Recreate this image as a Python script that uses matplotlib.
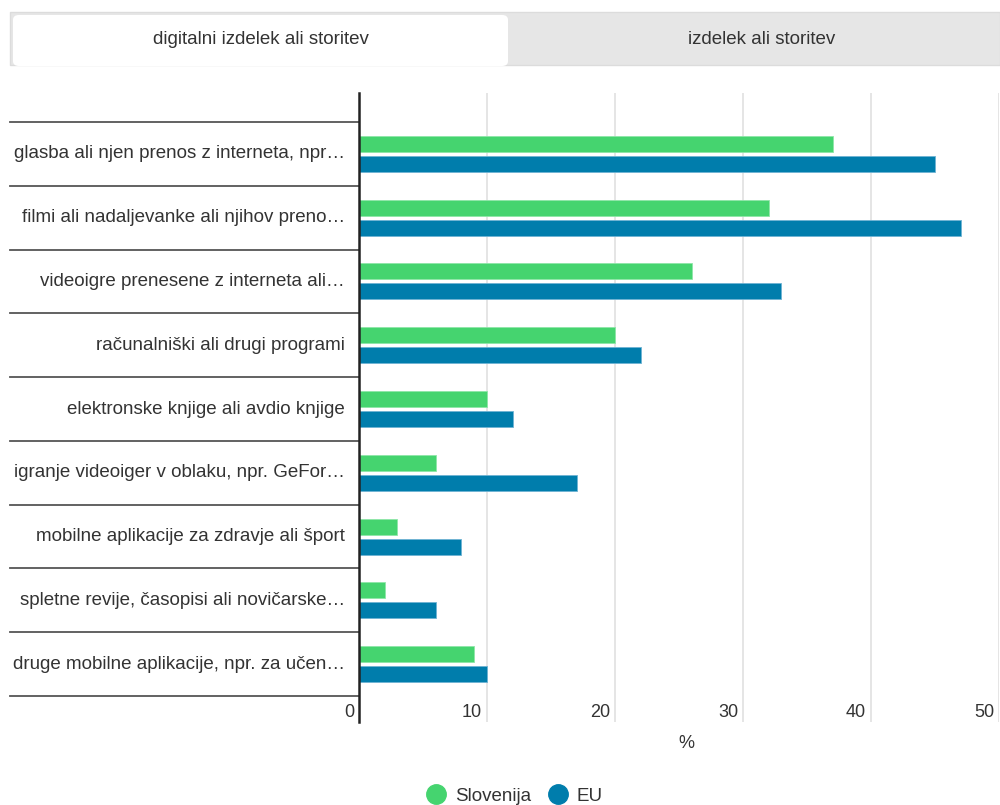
import matplotlib
matplotlib.use("Agg")
import matplotlib.pyplot as plt
from matplotlib.patches import FancyBboxPatch, Rectangle
from matplotlib.lines import Line2D
import matplotlib.transforms as mtransforms
import numpy as np

plt.rcParams['font.family'] = ['Liberation Sans', 'DejaVu Sans']

categories = [
    "glasba ali njen prenos z interneta, npr…",
    "filmi ali nadaljevanke ali njihov preno…",
    "videoigre prenesene z interneta ali…",
    "računalniški ali drugi programi",
    "elektronske knjige ali avdio knjige",
    "igranje videoiger v oblaku, npr. GeFor…",
    "mobilne aplikacije za zdravje ali šport",
    "spletne revije, časopisi ali novičarske…",
    "druge mobilne aplikacije, npr. za učen…",
]
slovenija = [37, 32, 26, 20, 10, 6, 3, 2, 9]
eu = [45, 47, 33, 22, 12, 17, 8, 6, 10]
series_names = ["Slovenija", "EU"]
xticks = [0, 10, 20, 30, 40, 50]
tab_labels = ["digitalni izdelek ali storitev", "izdelek ali storitev"]
x_label = "%"

GREEN = "#45d46f"
BLUE = "#007dac"
TEXT = "#333333"

W, H = 1000, 805
fig = plt.figure(figsize=(W / 100, H / 100), dpi=100)

def fx(px):
    return px / W

def fy(py):
    return 1 - py / H

# Tabs
fig.patches.append(Rectangle((fx(10), fy(65)), fx(990), (65 - 12) / H,
                             transform=fig.transFigure, facecolor="#e6e6e6",
                             edgecolor="#dcdcdc", linewidth=1.0, zorder=0))
fig.patches.append(FancyBboxPatch((fx(13), fy(66)), fx(495), (66 - 15) / H,
                                  boxstyle="round,pad=0,rounding_size=0.006",
                                  transform=fig.transFigure, facecolor="white",
                                  edgecolor="none", zorder=1))
fig.text(fx(261), fy(39), tab_labels[0], ha="center", va="center",
         fontsize=13.5, color=TEXT)
fig.text(fx(762), fy(39), tab_labels[1], ha="center", va="center",
         fontsize=13.5, color=TEXT)

# Axes
left, right = 359, 999
top, bottom = 93, 722
ax = fig.add_axes([fx(left), fy(bottom), fx(right - left), (bottom - top) / H])

band_px = (696 - 122) / 9.0
y_top = -0.5 - (122 - top) / band_px
y_bot = 8.5 + (bottom - 696) / band_px

y = np.arange(len(categories))
bh = 16 / band_px
off = 10 / band_px
ax.barh(y - off, slovenija, height=bh, color=GREEN, edgecolor="#8fe6a8",
        linewidth=0.6, zorder=3, label=series_names[0])
ax.barh(y + off, eu, height=bh, color=BLUE, edgecolor="#6fb3d3",
        linewidth=0.6, zorder=3, label=series_names[1])

ax.set_xlim(0, 50)
ax.set_ylim(y_bot, y_top)
ax.set_xticks(xticks)
ax.set_yticks([])
ax.tick_params(axis="x", length=0, labelbottom=False)
ax.grid(axis="x", color="#e0e0e0", linewidth=1.2, zorder=0)
for s in ["top", "right", "bottom"]:
    ax.spines[s].set_visible(False)
ax.spines["left"].set_color("#222222")
ax.spines["left"].set_linewidth(1.8)
ax.spines["left"].set_zorder(5)

# x tick labels (right-aligned just left of gridline)
blend = mtransforms.blended_transform_factory(ax.transData, fig.transFigure)
shift = mtransforms.ScaledTranslation(-5 / 100, 0, fig.dpi_scale_trans)
for t in xticks:
    ax.text(t, fy(712), str(t), transform=blend + shift, ha="right",
            va="center", fontsize=13, color=TEXT)

fig.text(fx(686), fy(743), x_label, ha="center", va="center",
         fontsize=13, color=TEXT)

# category separators and labels on the left
blend_y = mtransforms.blended_transform_factory(ax.transAxes, ax.transData)
x0 = (10 - left) / (right - left)
for i in range(len(categories) + 1):
    ax.plot([x0, 0], [i - 0.5, i - 0.5], transform=blend_y, color="#555555",
            linewidth=1.3, clip_on=False, zorder=4)
lab_shift = mtransforms.ScaledTranslation(-14 / 100, 0, fig.dpi_scale_trans)
for i, c in enumerate(categories):
    ax.text(0, i, c, transform=blend_y + lab_shift, ha="right", va="center",
            fontsize=13.5, color=TEXT)

# Legend
handles = [Line2D([0], [0], marker="o", linestyle="none", markersize=14,
                  markerfacecolor=GREEN, markeredgecolor=GREEN),
           Line2D([0], [0], marker="o", linestyle="none", markersize=14,
                  markerfacecolor=BLUE, markeredgecolor=BLUE)]
fig.legend(handles, series_names, loc="center", bbox_to_anchor=(fx(510), fy(796)),
           ncol=2, frameon=False, fontsize=13.5, handletextpad=0.0,
           columnspacing=0.4, labelcolor=TEXT)

fig.savefig("out.png", dpi=100, facecolor="white")
